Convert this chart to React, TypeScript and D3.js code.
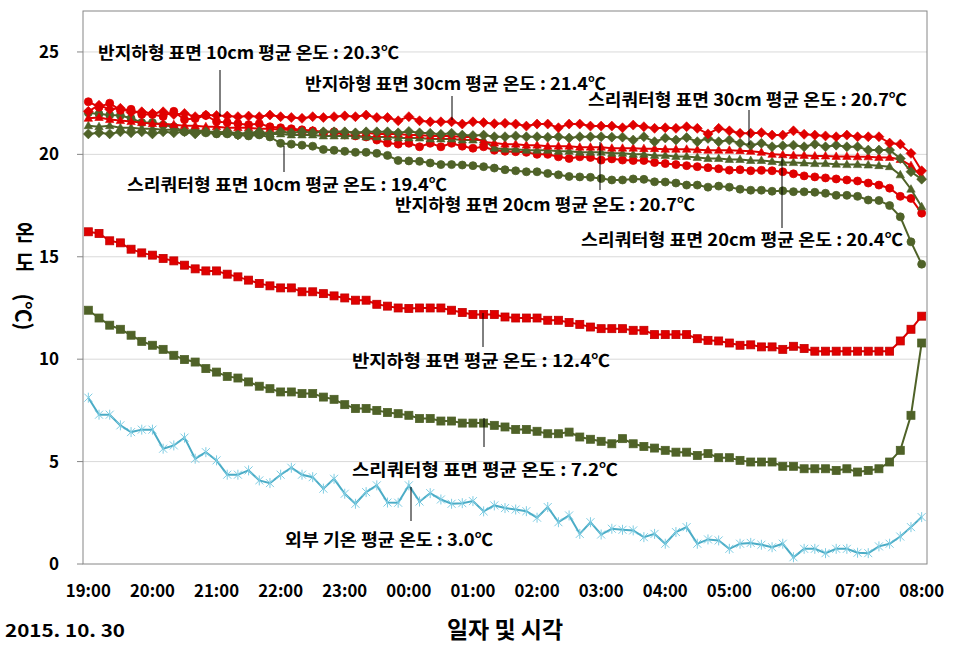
import React from "react";
import * as d3 from "d3";

const timeLabels = ["19:00","20:00","21:00","22:00","23:00","00:00","01:00","02:00","03:00","04:00","05:00","06:00","07:00","08:00"];
const yTicks = [0, 5, 10, 15, 20, 25];

// 반지하형 표면 10cm (red circles)
const semi10 = [22.57,22.3,22.5,22.15,22.2,21.95,21.95,21.85,22.1,21.7,
 21.75,21.9,21.6,21.55,21.5,21.45,21.5,21.35,21.3,21.25,
 21.2,21.15,21.05,21.1,20.95,20.9,20.85,20.7,20.55,20.5,
 20.54,20.37,20.54,20.37,20.54,20.4,20.3,20.37,20.2,20.15,
 20.13,20.1,20.0,20.0,19.88,19.8,19.88,19.85,19.72,19.78,
 19.72,19.7,19.7,19.6,19.55,19.5,19.45,19.4,19.35,19.3,
 19.23,19.25,19.2,19.22,19.2,19.15,19.05,18.95,18.9,18.85,
 18.8,18.75,18.7,18.6,18.5,18.35,17.95,17.85,17.13];
// 반지하형 표면 20cm (red triangles)
const semi20 = [21.76,21.8,21.7,21.65,21.6,21.55,21.5,21.5,21.45,21.4,
 21.4,21.35,21.35,21.3,21.3,21.3,21.25,21.25,21.2,21.2,
 21.15,21.15,21.1,21.1,21.1,21.05,21.05,21.0,21.0,21.0,
 20.95,20.95,20.9,20.9,20.9,20.85,20.85,20.6,20.55,20.5,
 20.5,20.45,20.45,20.4,20.4,20.4,20.35,20.35,20.35,20.3,
 20.3,20.3,20.28,20.28,20.25,20.25,20.25,20.22,20.2,20.2,
 20.2,20.18,20.15,20.1,20.0,19.98,19.95,19.95,19.92,19.92,
 19.9,19.9,19.88,19.88,19.85,19.85,19.75,19.45,18.9];
// 반지하형 표면 30cm (red diamonds)
const semi30 = [22.1,22.4,22.2,22.25,22.05,22.08,22.0,22.08,21.95,22.0,
 21.84,21.92,21.9,21.87,21.84,21.87,21.84,21.92,21.84,21.8,
 21.76,21.84,21.8,21.84,21.88,21.84,21.92,21.8,21.8,21.64,
 21.84,21.64,21.59,21.59,21.59,21.48,21.59,21.55,21.5,21.52,
 21.48,21.38,21.48,21.48,21.3,21.48,21.48,21.38,21.38,21.38,
 21.3,21.43,21.35,21.27,21.3,21.27,21.35,21.27,21.0,21.27,
 21.15,21.03,21.03,21.06,20.94,20.94,21.15,20.98,20.94,20.9,
 20.86,20.94,20.86,20.86,20.86,20.55,20.5,20.05,19.2];
// 스리쿼터형 표면 10cm (green circles)
const three10 = [22.03,21.97,21.92,21.9,21.76,21.55,21.55,21.43,21.35,21.1,
 21.15,21.05,21.0,21.0,20.95,20.9,20.95,20.85,20.54,20.5,
 20.45,20.4,20.24,20.2,20.15,20.1,20.1,20.05,19.95,19.7,
 19.68,19.66,19.58,19.5,19.5,19.48,19.45,19.4,19.33,19.25,
 19.2,19.15,19.15,19.07,19.0,18.92,18.9,18.88,18.82,18.75,
 18.75,18.8,18.78,18.66,18.65,18.6,18.5,18.5,18.4,18.45,
 18.4,18.3,18.25,18.25,18.2,18.22,18.18,18.17,18.15,18.1,
 18.0,18.0,17.95,17.77,17.75,17.5,16.95,15.73,14.64];
// 스리쿼터형 표면 20cm (green triangles)
const three20 = [21.4,21.35,21.4,21.3,21.3,21.25,21.25,21.2,21.2,21.15,
 21.2,21.1,21.1,21.05,21.05,21.0,21.0,21.0,21.0,20.95,
 20.95,20.95,20.9,20.9,20.9,20.9,20.85,20.85,20.85,20.8,
 20.8,20.8,20.75,20.75,20.75,20.7,20.7,20.7,20.3,20.25,
 20.25,20.2,20.2,20.2,20.15,20.15,20.1,20.1,20.1,20.05,
 20.05,20.0,20.0,19.95,19.95,19.9,19.9,19.85,19.8,19.8,
 19.75,19.75,19.7,19.7,19.65,19.6,19.6,19.58,19.55,19.55,
 19.52,19.5,19.5,19.48,19.45,19.4,19.0,18.3,17.44];
// 스리쿼터형 표면 30cm (green diamonds)
const three30 = [21.0,21.05,21.0,21.1,21.05,21.1,21.0,21.1,21.05,21.1,
 21.0,21.1,21.05,21.1,20.95,21.05,21.1,21.0,21.1,21.05,
 21.1,21.05,21.1,21.1,21.1,21.05,21.1,21.1,21.1,21.05,
 21.12,21.05,21.03,20.98,21.03,20.94,20.92,20.94,20.86,20.86,
 20.9,20.86,20.86,20.84,20.86,20.8,20.86,20.86,20.86,20.84,
 20.84,20.7,20.86,20.62,20.8,20.7,20.82,20.62,20.78,20.62,
 20.7,20.54,20.45,20.54,20.37,20.42,20.45,20.37,20.5,20.37,
 20.45,20.37,20.37,20.21,20.21,20.21,19.8,19.15,18.79];
// 반지하형 표면 (red squares)
const semiSurface = [16.22,16.14,15.78,15.68,15.37,15.19,15.08,14.92,14.8,14.59,
 14.41,14.31,14.31,14.15,14.02,13.86,13.7,13.58,13.48,13.48,
 13.29,13.29,13.2,13.09,12.99,12.88,12.88,12.68,12.59,12.5,
 12.48,12.5,12.5,12.5,12.39,12.28,12.18,12.18,12.18,12.06,
 12.01,12.01,12.01,11.9,11.9,11.79,11.7,11.57,11.49,11.49,
 11.49,11.41,11.41,11.2,11.2,11.2,11.2,11.0,10.92,10.89,
 10.79,10.68,10.7,10.6,10.6,10.48,10.63,10.52,10.39,10.39,
 10.39,10.39,10.39,10.39,10.39,10.39,10.89,11.46,12.1];
// 스리쿼터형 표면 (green squares)
const threeSurface = [12.39,12.01,11.66,11.46,11.17,10.87,10.68,10.48,10.19,9.98,
 9.86,9.54,9.37,9.16,9.08,8.89,8.68,8.56,8.4,8.4,
 8.32,8.32,8.15,8.04,7.78,7.59,7.59,7.5,7.4,7.34,
 7.26,7.1,7.1,6.98,6.98,6.88,6.88,6.88,6.77,6.69,
 6.57,6.57,6.48,6.36,6.36,6.44,6.2,6.09,5.99,5.87,
 6.12,5.87,5.74,5.66,5.55,5.46,5.46,5.3,5.39,5.19,
 5.19,5.06,4.98,4.98,4.98,4.77,4.77,4.65,4.65,4.65,
 4.57,4.65,4.49,4.57,4.65,4.98,5.55,7.26,10.79];
// 외부 기온 (teal asterisks)
const outside = [8.12,7.29,7.29,6.77,6.44,6.56,6.56,5.63,5.79,6.17,
 5.14,5.46,5.06,4.36,4.36,4.57,4.08,3.95,4.36,4.7,
 4.36,4.24,3.68,4.16,3.43,2.94,3.51,3.84,3.0,2.99,
 3.84,3.05,3.46,3.15,2.94,2.97,3.07,2.57,2.86,2.73,
 2.66,2.58,2.26,2.78,2.04,2.37,1.47,2.04,1.44,1.72,
 1.67,1.64,1.31,1.47,0.99,1.56,1.8,0.99,1.2,1.15,
 0.74,0.99,1.03,0.94,0.82,0.99,0.33,0.74,0.74,0.53,
 0.74,0.74,0.55,0.53,0.86,0.99,1.34,1.8,2.29];

const RED = "#e00000";
const RED_DARK = "#c00000";
const GREEN = "#4f6228";
const TEAL = "#4bacc6";

type Shape = "circle" | "square" | "diamond" | "triangle" | "asterisk";

const seriesList: { data: number[]; color: string; stroke: string; shape: Shape; width: number }[] = [
  { data: outside, color: TEAL, stroke: "#7fcde3", shape: "asterisk", width: 2 },
  { data: threeSurface, color: GREEN, stroke: GREEN, shape: "square", width: 2 },
  { data: semiSurface, color: RED, stroke: RED_DARK, shape: "square", width: 2 },
  { data: three10, color: GREEN, stroke: GREEN, shape: "circle", width: 2 },
  { data: semi10, color: RED, stroke: RED, shape: "circle", width: 2 },
  { data: three20, color: GREEN, stroke: GREEN, shape: "triangle", width: 2 },
  { data: semi20, color: RED, stroke: RED, shape: "triangle", width: 2 },
  { data: three30, color: GREEN, stroke: GREEN, shape: "diamond", width: 2 },
  { data: semi30, color: RED, stroke: RED, shape: "diamond", width: 2 },
];

const annotations = [
  { text: "반지하형 표면 10cm 평균 온도 : 20.3℃", x: 98, cy: 53, w: 301, lx: 220, ly1: 70, ly2: 116 },
  { text: "반지하형 표면 30cm 평균 온도 : 21.4℃", x: 305, cy: 84, w: 301, lx: 452, ly1: 96, ly2: 120 },
  { text: "스리쿼터형 표면 30cm 평균 온도 : 20.7℃", x: 588, cy: 100, w: 319, lx: 749, ly1: 110, ly2: 145 },
  { text: "스리쿼터형 표면 10cm 평균 온도 : 19.4℃", x: 127, cy: 185, w: 320, lx: 284, ly1: 146, ly2: 172 },
  { text: "반지하형 표면 20cm 평균 온도 : 20.7℃", x: 395, cy: 205, w: 300, lx: 600, ly1: 142, ly2: 190 },
  { text: "스리쿼터형 표면 20cm 평균 온도 : 20.4℃", x: 581, cy: 240, w: 322, lx: 782, ly1: 157, ly2: 228 },
  { text: "반지하형 표면 평균 온도 : 12.4℃", x: 352, cy: 361, w: 258, lx: 483, ly1: 313, ly2: 347 },
  { text: "스리쿼터형 표면 평균 온도 : 7.2℃", x: 352, cy: 470, w: 266, lx: 484, ly1: 418, ly2: 447 },
  { text: "외부 기온 평균 온도 : 3.0℃", x: 285, cy: 540, w: 208, lx: 411, ly1: 487, ly2: 521 },
];

const FONT = "'Noto Sans CJK KR', 'Noto Sans', sans-serif";

function Marker({ shape, cx, cy, fill, stroke }: { shape: Shape; cx: number; cy: number; fill: string; stroke: string }) {
  switch (shape) {
    case "circle":
      return <circle cx={cx} cy={cy} r={4} fill={fill} stroke={stroke} strokeWidth={0.8} />;
    case "square":
      return <rect x={cx - 4} y={cy - 4} width={8} height={8} fill={fill} stroke={stroke} strokeWidth={0.8} />;
    case "diamond":
      return <path d={`M${cx},${cy - 5}L${cx + 5},${cy}L${cx},${cy + 5}L${cx - 5},${cy}Z`} fill={fill} stroke={stroke} strokeWidth={0.6} />;
    case "triangle":
      return <path d={`M${cx},${cy - 4.5}L${cx + 4.2},${cy + 3}L${cx - 4.2},${cy + 3}Z`} fill={fill} stroke={stroke} strokeWidth={0.6} />;
    case "asterisk":
      return (
        <path
          d={`M${cx - 4},${cy - 4}L${cx + 4},${cy + 4}M${cx - 4},${cy + 4}L${cx + 4},${cy - 4}M${cx},${cy - 5}L${cx},${cy + 5}`}
          stroke={stroke}
          strokeWidth={1}
          fill="none"
        />
      );
  }
}

export default function App() {
  const W = 959;
  const H = 649;
  const left = 83, right = 927, top = 11, bottom = 564;
  const n = semi10.length;
  const x = d3.scalePoint<number>().domain(d3.range(n)).range([left, right]).padding(0.5);
  const y = d3.scaleLinear().domain([0, 27]).range([bottom, top]);
  const line = d3.line<number>().x((_, i) => x(i) as number).y((d) => y(d));

  return (
    <svg width={W} height={H} style={{ position: "absolute", left: 0, top: 0, background: "#fff" }} fontFamily={FONT}>
      <rect x={0} y={0} width={W} height={H} fill="#fff" />
      {yTicks.map((t) =>
        t === 0 ? null : (
          <line key={"g" + t} x1={left} x2={right} y1={y(t)} y2={y(t)} stroke="#d9d9d9" strokeWidth={1} />
        )
      )}
      <rect x={left} y={top} width={right - left} height={bottom - top} fill="none" stroke="#868686" strokeWidth={1} />
      {yTicks.map((t) => (
        <g key={"t" + t}>
          <line x1={left - 6} x2={left} y1={y(t)} y2={y(t)} stroke="#868686" />
          <text x={59} y={y(t) + 6} textAnchor="end" fontSize={17} fontWeight="bold" fill="#000">
            {t}
          </text>
        </g>
      ))}
      {timeLabels.map((lab, k) => (
        <text key={lab} x={x(k * 6) as number} y={597} textAnchor="middle" fontSize={17} fontWeight="bold" fill="#000" textLength={45} lengthAdjust="spacingAndGlyphs">
          {lab}
        </text>
      ))}
      {seriesList.map((s, si) => (
        <g key={"s" + si}>
          <path d={line(s.data) || ""} fill="none" stroke={s.color} strokeWidth={s.width} />
          {s.data.map((v, i) => (
            <Marker key={i} shape={s.shape} cx={x(i) as number} cy={y(v)} fill={s.color} stroke={s.stroke} />
          ))}
        </g>
      ))}
      {annotations.map((a, k) => (
        <g key={"a" + k}>
          <line x1={a.lx} x2={a.lx} y1={a.ly1} y2={a.ly2} stroke="#000" strokeWidth={1} />
          <text x={a.x} y={a.cy + 6} fontSize={17} fontWeight="bold" fill="#000" textLength={a.w} lengthAdjust="spacingAndGlyphs">
            {a.text}
          </text>
        </g>
      ))}
      <g fontSize={21} fontWeight="bold" fill="#000" textAnchor="middle">
        <text x={25} y={240}>온</text>
        <text x={25} y={270}>도</text>
        <text transform="translate(25,312) rotate(90)" dominantBaseline="central">(℃)</text>
      </g>
      <text x={505} y={638} textAnchor="middle" fontSize={23} fontWeight="bold" fill="#000">
        일자 및 시각
      </text>
      <text x={5} y={637} fontSize={17} fontWeight="bold" fill="#000" textLength={120} lengthAdjust="spacingAndGlyphs">
        2015. 10. 30
      </text>
    </svg>
  );
}
